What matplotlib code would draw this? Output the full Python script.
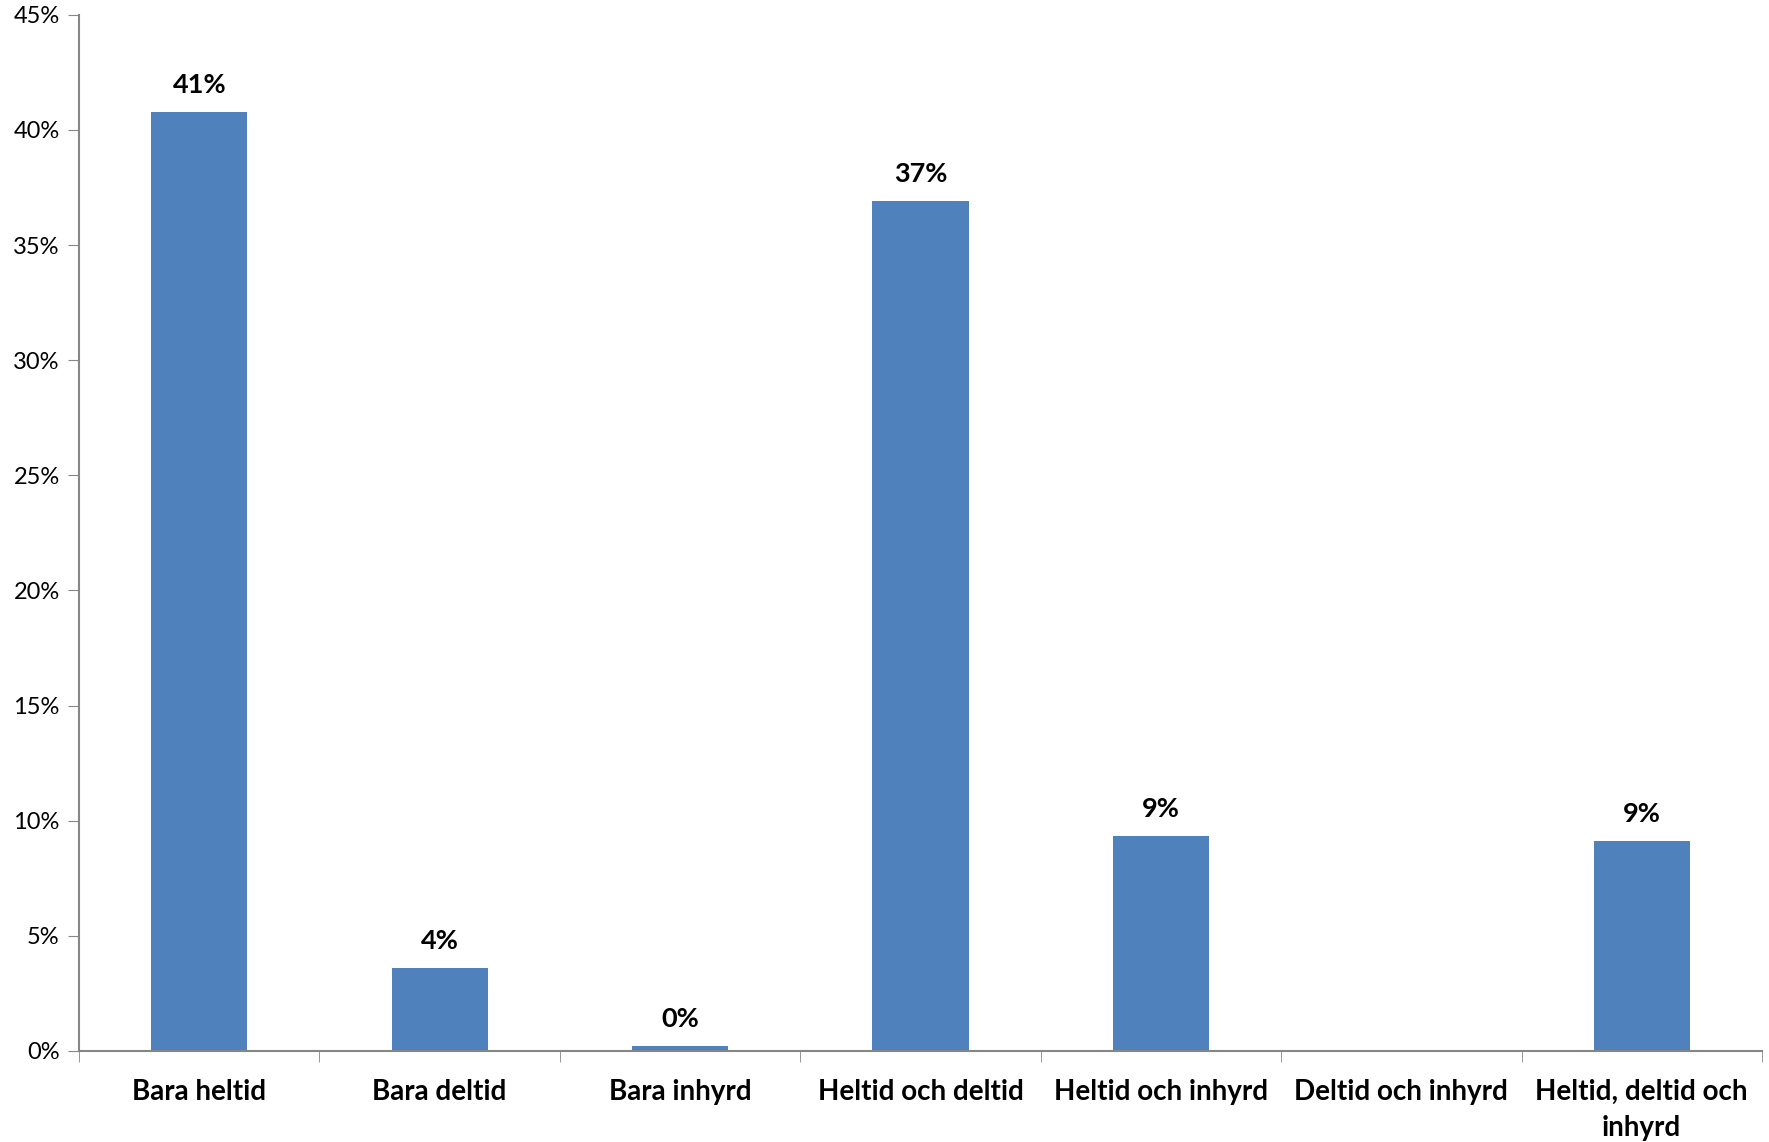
import numpy as np
import matplotlib.pyplot as plt
from matplotlib.ticker import PercentFormatter

categories = ["Bara heltid", "Bara deltid", "Bara inhyrd", "Heltid och deltid",
              "Heltid och inhyrd", "Deltid och inhyrd", "Heltid, deltid och\ninhyrd"]
values = [40.8, 3.6, 0.2, 36.9, 9.35, np.nan, 9.1]
labels = ["41%", "4%", "0%", "37%", "9%", "", "9%"]

plt.rcParams['font.family'] = ['Lato', 'DejaVu Sans']

fig = plt.figure(figsize=(17.69, 11.42), dpi=100)
ax = fig.add_axes([0.0447, 0.0797, 0.9513, 0.9073])

x = np.arange(len(categories))
bars = ax.bar(x, values, width=0.4, color="#4f81bd", zorder=2)

for xi, v, lab in zip(x, values, labels):
    if lab:
        ax.text(xi, v + 0.65, lab, ha="center", va="bottom", fontsize=19.5, fontweight="bold")

ax.set_xlim(-0.5, len(categories) - 0.5)
ax.set_ylim(0, 45)
ax.set_yticks(np.arange(0, 46, 5))
ax.yaxis.set_major_formatter(PercentFormatter(decimals=0))
ax.set_xticks(x)
ax.set_xticklabels(categories, fontsize=20, fontweight="bold", linespacing=1.5)
ax.set_xticks(np.arange(-0.5, len(categories), 1), minor=True)
ax.tick_params(axis="x", which="major", length=0, pad=20)
ax.tick_params(axis="x", which="minor", length=8, color="#868686", direction="out")
ax.tick_params(axis="y", length=8, color="#868686", labelsize=17, pad=6)

for s in ["top", "right"]:
    ax.spines[s].set_visible(False)
for s in ["left", "bottom"]:
    ax.spines[s].set_color("#868686")
    ax.spines[s].set_linewidth(1.5)

fig.savefig("out.png", dpi=100)
